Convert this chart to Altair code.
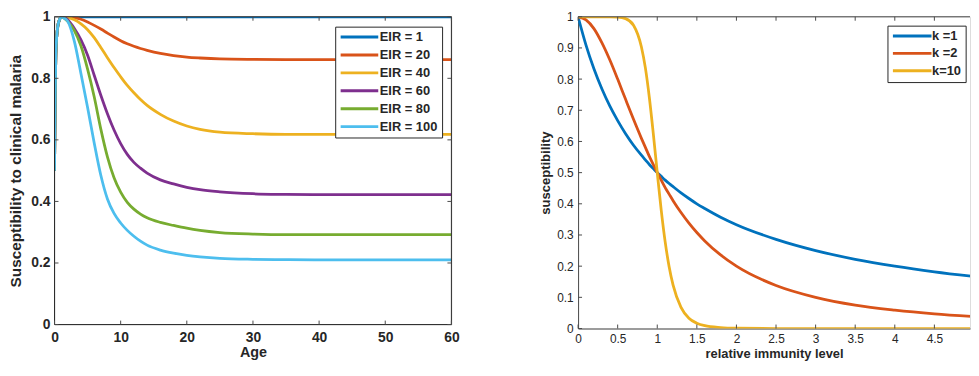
import altair as alt
import pandas as pd

# ---------------- data: left panel (susceptibility vs age) ----------------
AGE = [0, 0.1, 0.2, 0.35, 0.5, 0.75, 1.0, 1.5, 2, 3, 4, 5, 6, 7, 8, 9, 10,
       11, 12, 13, 14, 16, 18, 20, 22, 25, 30, 35, 40, 50, 60]
EIR_LABELS = ["EIR = 1", "EIR = 20", "EIR = 40", "EIR = 60", "EIR = 80", "EIR = 100"]
EIR_COLORS = ["#0072BD", "#D95319", "#EDB120", "#7E2F8E", "#77AC30", "#4DBEEE"]

S_EIR1 = [0.5, 0.75, 0.88, 0.94, 0.97, 0.99, 1.0, 1.0, 1.0, 1.0, 1.0, 1.0, 1.0, 1.0,
          1.0, 1.0, 1.0, 1.0, 1.0, 1.0, 1.0, 1.0, 1.0, 1.0, 1.0, 1.0, 1.0, 1.0, 1.0,
          1.0, 1.0]
S_EIR20 = [0.5, 0.75, 0.88, 0.94, 0.97, 0.99, 1.0, 1.0, 0.999, 0.997, 0.992, 0.983,
           0.972, 0.96, 0.947, 0.934, 0.922, 0.912, 0.904, 0.897, 0.891, 0.881,
           0.874, 0.869, 0.866, 0.863, 0.8615, 0.861, 0.861, 0.861, 0.861]
S_EIR40 = [0.5, 0.75, 0.88, 0.94, 0.97, 0.99, 1.0, 1.0, 0.998, 0.99, 0.977, 0.958,
           0.932, 0.9, 0.867, 0.835, 0.805, 0.777, 0.753, 0.731, 0.712, 0.683,
           0.661, 0.645, 0.634, 0.625, 0.62, 0.618, 0.618, 0.618, 0.618]
S_EIR60 = [0.5, 0.75, 0.88, 0.94, 0.97, 0.99, 1.0, 0.998, 0.99, 0.962, 0.925, 0.875,
           0.81, 0.745, 0.685, 0.632, 0.588, 0.553, 0.527, 0.508, 0.492, 0.47,
           0.457, 0.446, 0.438, 0.431, 0.425, 0.423, 0.422, 0.422, 0.422]
S_EIR80 = [0.5, 0.75, 0.88, 0.94, 0.97, 0.99, 1.0, 0.995, 0.985, 0.955, 0.905, 0.83,
           0.74, 0.635, 0.545, 0.477, 0.43, 0.397, 0.375, 0.359, 0.347, 0.332,
           0.322, 0.313, 0.306, 0.299, 0.294, 0.292, 0.292, 0.292, 0.292]
S_EIR100 = [0.5, 0.75, 0.88, 0.94, 0.97, 0.99, 1.0, 0.995, 0.985, 0.92, 0.815, 0.705,
            0.59, 0.485, 0.408, 0.361, 0.33, 0.306, 0.287, 0.271, 0.258, 0.242,
            0.232, 0.225, 0.22, 0.215, 0.212, 0.211, 0.21, 0.21, 0.21]
AGE_TICKS = [0, 10, 20, 30, 40, 50, 60]
S1_TICKS = [0, 0.2, 0.4, 0.6, 0.8, 1]

# ---------------- data: right panel (susceptibility vs immunity) ----------------
IMM = [0, 0.1, 0.2, 0.3, 0.4, 0.5, 0.6, 0.7, 0.8, 0.85, 0.9, 0.95, 1.0, 1.05, 1.1,
       1.15, 1.2, 1.3, 1.4, 1.5, 1.6, 1.8, 2.0, 2.5, 3.0, 3.5, 4.0, 4.5, 5.0]
K_LABELS = ["k =1", "k =2", "k=10"]
K_COLORS = ["#0072BD", "#D95319", "#EDB120"]
S_K1 = [1, 0.909, 0.833, 0.769, 0.714, 0.667, 0.625, 0.588, 0.556, 0.541, 0.526,
        0.513, 0.5, 0.488, 0.476, 0.465, 0.455, 0.435, 0.417, 0.4, 0.385, 0.357,
        0.333, 0.286, 0.25, 0.222, 0.2, 0.182, 0.167]
S_K2 = [1, 0.99, 0.962, 0.917, 0.862, 0.8, 0.735, 0.671, 0.61, 0.581, 0.552, 0.526,
        0.5, 0.476, 0.452, 0.431, 0.41, 0.372, 0.338, 0.308, 0.281, 0.236, 0.2,
        0.138, 0.1, 0.075, 0.059, 0.047, 0.038]
S_K10 = [1, 1, 1, 1, 1, 0.999, 0.994, 0.973, 0.903, 0.836, 0.741, 0.625, 0.5, 0.38,
         0.278, 0.198, 0.139, 0.068, 0.033, 0.017, 0.009, 0.003, 0.001, 0, 0, 0, 0,
         0, 0]
IMM_TICKS = [0, 0.5, 1, 1.5, 2, 2.5, 3, 3.5, 4, 4.5]
S2_TICKS = [0, 0.1, 0.2, 0.3, 0.4, 0.5, 0.6, 0.7, 0.8, 0.9, 1]

# ---------------- build tables ----------------
rows1 = []
for lab, ser in zip(EIR_LABELS, [S_EIR1, S_EIR20, S_EIR40, S_EIR60, S_EIR80, S_EIR100]):
    for a, v in zip(AGE, ser):
        rows1.append({"age": a, "s": v, "eir": lab})
df1 = pd.DataFrame(rows1)

rows2 = []
for lab, ser in zip(K_LABELS, [S_K1, S_K2, S_K10]):
    for a, v in zip(IMM, ser):
        rows2.append({"imm": a, "s": v, "k": lab})
df2 = pd.DataFrame(rows2)

FONT = "Liberation Sans"
TXT = "#262626"
TICKC = "#4a4a4a"
W1, H1 = 401, 311
W2, H2 = 396, 315
TL = 4  # inward tick length
LBL = "'' + datum.value"

# ---------------- left panel ----------------
xs1 = alt.Scale(domain=[0, 60], nice=False, zero=False)
ys1 = alt.Scale(domain=[0, 1], nice=False)
xax1 = alt.Axis(
    title="Age", values=AGE_TICKS, labelExpr=LBL, grid=False, ticks=False, tickSize=0,
    domain=False, labelFlush=False, labelOverlap=False, labelFont=FONT,
    labelFontSize=14, labelFontWeight="bold", labelColor=TXT, labelPadding=6.5,
    titleFont=FONT, titleFontSize=14.5, titleFontWeight="bold", titleColor=TXT,
    titlePadding=1)
yax1 = alt.Axis(
    title="Susceptibility to clinical malaria", values=S1_TICKS, labelExpr=LBL,
    grid=False, ticks=False, tickSize=0, domain=False, labelFlush=False,
    labelOverlap=False, labelFont=FONT, labelFontSize=14, labelFontWeight="bold",
    labelColor=TXT, labelPadding=4.5, titleFont=FONT, titleFontSize=15.5,
    titleFontWeight="bold", titleColor=TXT, titlePadding=7.5)

lines1 = alt.Chart(df1).mark_line(strokeWidth=2.8, interpolate="monotone", clip=True).encode(
    x=alt.X("age:Q", scale=xs1, axis=xax1),
    y=alt.Y("s:Q", scale=ys1, axis=yax1),
    color=alt.Color("eir:N", scale=alt.Scale(domain=EIR_LABELS, range=EIR_COLORS),
                    legend=alt.Legend(
                        title=None, orient="none", legendX=283.6, legendY=10,
                        symbolType="M -1 0 L 6.6 0", symbolSize=100, symbolStrokeWidth=3,
                        labelFont=FONT, labelFontSize=13, labelFontWeight="bold",
                        labelColor=TXT, labelOffset=28, strokeColor=TXT,
                        fillColor="white", padding=4, rowPadding=4.1)),
)

frame1 = alt.Chart(pd.DataFrame({"a": [0]})).mark_rect(
    filled=False, stroke=TXT, strokeWidth=1).encode(
    x=alt.value(0), x2=alt.value(W1), y=alt.value(0), y2=alt.value(H1))

xt1 = pd.DataFrame({"age": AGE_TICKS})
yt1 = pd.DataFrame({"s": S1_TICKS})
tick_b1 = alt.Chart(xt1).mark_rule(color=TICKC, strokeWidth=1).encode(
    x=alt.X("age:Q", scale=xs1, axis=xax1), y=alt.value(H1), y2=alt.value(H1 - TL))
tick_t1 = alt.Chart(xt1).mark_rule(color=TICKC, strokeWidth=1).encode(
    x=alt.X("age:Q", scale=xs1, axis=xax1), y=alt.value(0), y2=alt.value(TL))
tick_l1 = alt.Chart(yt1).mark_rule(color=TICKC, strokeWidth=1).encode(
    y=alt.Y("s:Q", scale=ys1, axis=yax1), x=alt.value(0), x2=alt.value(TL))
tick_r1 = alt.Chart(yt1).mark_rule(color=TICKC, strokeWidth=1).encode(
    y=alt.Y("s:Q", scale=ys1, axis=yax1), x=alt.value(W1 - TL), x2=alt.value(W1))

left = alt.layer(lines1, frame1, tick_b1, tick_t1, tick_l1, tick_r1).properties(
    width=W1, height=H1)

# ---------------- right panel ----------------
xs2 = alt.Scale(domain=[0, 4.95], nice=False, zero=False)
ys2 = alt.Scale(domain=[0, 1], nice=False)
xax2 = alt.Axis(
    title="relative immunity level", values=IMM_TICKS, labelExpr=LBL, grid=False,
    ticks=False, tickSize=0, domain=True, domainColor=TICKC, domainWidth=1,
    labelFlush=False, labelOverlap=False, labelFont=FONT, labelFontSize=12,
    labelFontWeight="normal", labelColor=TXT, labelPadding=5, titleFont=FONT,
    titleFontSize=13, titleFontWeight="bold", titleColor=TXT, titlePadding=3)
yax2 = alt.Axis(
    title="susceptibility", values=S2_TICKS, labelExpr=LBL, grid=False, ticks=False,
    tickSize=0, domain=True, domainColor=TICKC, domainWidth=1, labelFlush=False,
    labelOverlap=False, labelFont=FONT, labelFontSize=12, labelFontWeight="normal",
    labelColor=TXT, labelPadding=5, titleFont=FONT, titleFontSize=13.2,
    titleFontWeight="bold", titleColor=TXT, titlePadding=4)

lines2 = alt.Chart(df2).mark_line(strokeWidth=2.8, interpolate="monotone", clip=True).encode(
    x=alt.X("imm:Q", scale=xs2, axis=xax2),
    y=alt.Y("s:Q", scale=ys2, axis=yax2),
    color=alt.Color("k:N", scale=alt.Scale(domain=K_LABELS, range=K_COLORS),
                    legend=alt.Legend(
                        title=None, orient="none", legendX=312.6, legendY=9,
                        symbolType="M -1 0 L 6.8 0", symbolSize=100, symbolStrokeWidth=3,
                        labelFont=FONT, labelFontSize=13, labelFontWeight="bold",
                        labelColor=TXT, labelOffset=28, strokeColor=TXT,
                        fillColor="white", padding=4, rowPadding=3.5)),
)

top2 = alt.Chart(pd.DataFrame({"a": [0]})).mark_rule(color=TICKC, strokeWidth=1).encode(
    x=alt.value(0), x2=alt.value(W2), y=alt.value(0))
xt2 = pd.DataFrame({"imm": IMM_TICKS})
yt2 = pd.DataFrame({"s": S2_TICKS})
tick_b2 = alt.Chart(xt2).mark_rule(color=TICKC, strokeWidth=1).encode(
    x=alt.X("imm:Q", scale=xs2, axis=xax2), y=alt.value(H2), y2=alt.value(H2 - TL))
tick_t2 = alt.Chart(xt2).mark_rule(color=TICKC, strokeWidth=1).encode(
    x=alt.X("imm:Q", scale=xs2, axis=xax2), y=alt.value(0), y2=alt.value(TL))
tick_l2 = alt.Chart(yt2).mark_rule(color=TICKC, strokeWidth=1).encode(
    y=alt.Y("s:Q", scale=ys2, axis=yax2), x=alt.value(0), x2=alt.value(TL))

right = alt.layer(lines2, top2, tick_b2, tick_t2, tick_l2).properties(
    width=W2, height=H2)

chart = alt.hconcat(left, right, spacing=78).resolve_scale(color="independent").properties(
    padding={"left": 0, "top": -1, "right": 0, "bottom": 0}
).configure_view(stroke="transparent").configure(background="white")

chart.save("out.html", embed_options={"renderer": "svg", "actions": False})
